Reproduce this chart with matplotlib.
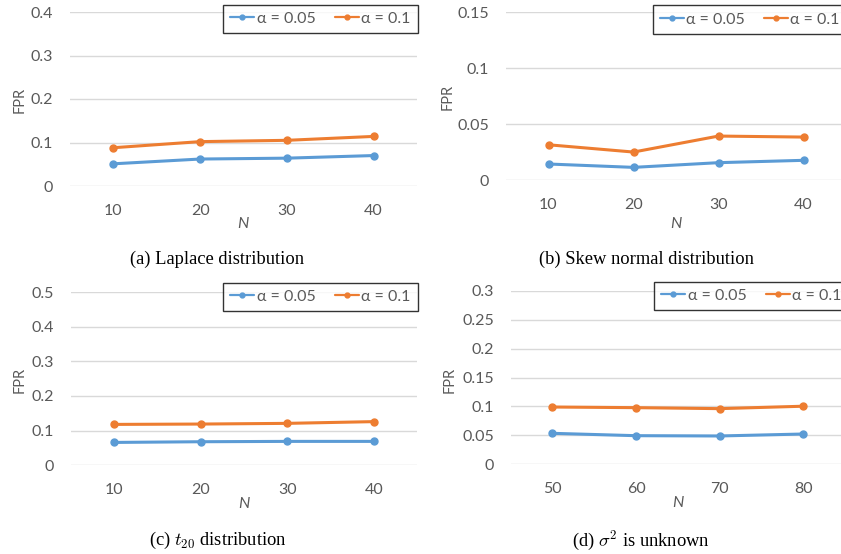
import matplotlib
matplotlib.use("Agg")
import matplotlib.pyplot as plt

# ---- data ----
n_a = ["10", "20", "30", "40"]
laplace_005 = [0.051, 0.062, 0.064, 0.070]
laplace_01 = [0.088, 0.102, 0.105, 0.114]

n_b = ["10", "20", "30", "40"]
skew_005 = [0.0143, 0.0113, 0.0155, 0.0176]
skew_01 = [0.0315, 0.0250, 0.0393, 0.0384]

n_c = ["10", "20", "30", "40"]
t20_005 = [0.066, 0.068, 0.069, 0.069]
t20_01 = [0.118, 0.119, 0.121, 0.126]

n_d = ["50", "60", "70", "80"]
sigma_005 = [0.0532, 0.0491, 0.0486, 0.0520]
sigma_01 = [0.0988, 0.0977, 0.0960, 0.1002]

legend_labels = ["α = 0.05", "α = 0.1"]
captions = ["(a) Laplace distribution", "(b) Skew normal distribution",
            r"(c) $t_{20}$ distribution", r"(d) $\sigma^2$ is unknown"]

plt.rcParams['mathtext.fontset'] = 'cm'
W, H = 841, 554
fig = plt.figure(figsize=(W / 100, H / 100), dpi=100)
fig.patch.set_facecolor("white")

BLUE = "#5B9BD5"
ORANGE = "#ED7D31"
GREY = "#595959"
GRID = "#D9D9D9"
SANS = ["Lato", "DejaVu Sans"]
SERIF = ["Liberation Serif", "DejaVu Serif"]


def px_axes(left, top, right, bottom):
    return fig.add_axes([left / W, 1 - bottom / H, (right - left) / W, (bottom - top) / H])


panels = [
    dict(box=(70, 12, 417, 186), cats=n_a, s1=laplace_005, s2=laplace_01, ymax=0.4,
         yticks=[0, 0.1, 0.2, 0.3, 0.4], yl=["0", "0.1", "0.2", "0.3", "0.4"],
         leg=(417.5, 4.7), fpr=(20, 100), nlab=(243, 224), cap=(217, 259)),
    dict(box=(506, 12.3, 846, 180), cats=n_b, s1=skew_005, s2=skew_01, ymax=0.15,
         yticks=[0, 0.05, 0.1, 0.15], yl=["0", "0.05", "0.1", "0.15"],
         leg=(847, 5.3), fpr=(448, 97), nlab=(676, 224), cap=(646, 259)),
    dict(box=(71, 292, 417, 465.3), cats=n_c, s1=t20_005, s2=t20_01, ymax=0.5,
         yticks=[0, 0.1, 0.2, 0.3, 0.4, 0.5], yl=["0", "0.1", "0.2", "0.3", "0.4", "0.5"],
         leg=(417.5, 282.7), fpr=(20, 380), nlab=(244, 504), cap=(218, 540)),
    dict(box=(510.7, 291, 845, 464), cats=n_d, s1=sigma_005, s2=sigma_01, ymax=0.3,
         yticks=[0, 0.05, 0.1, 0.15, 0.2, 0.25, 0.3],
         yl=["0", "0.05", "0.1", "0.15", "0.2", "0.25", "0.3"],
         leg=(848.5, 281.7), fpr=(450, 380), nlab=(678, 503), cap=(641, 540)),
]

for i, p in enumerate(panels):
    l, t, r, b = p["box"]
    ax = px_axes(l, t, r, b)
    x = list(range(len(p["cats"])))
    ax.plot(x, p["s1"], color=BLUE, lw=2.2, marker="o", ms=5, label=legend_labels[0],
            solid_capstyle="round", zorder=3)
    ax.plot(x, p["s2"], color=ORANGE, lw=2.2, marker="o", ms=5, label=legend_labels[1],
            solid_capstyle="round", zorder=3)
    ax.set_xlim(-0.5, len(x) - 0.5)
    ax.set_ylim(0, p["ymax"])
    ax.set_xticks(x)
    ax.set_xticklabels(p["cats"])
    ax.set_yticks(p["yticks"])
    ax.set_yticklabels(p["yl"])
    for s in ax.spines.values():
        s.set_visible(False)
    ax.yaxis.grid(True, color=GRID, lw=1)
    ax.set_axisbelow(True)
    ax.tick_params(axis="both", length=0, labelcolor=GREY, labelsize=11.5)
    ax.tick_params(axis="x", pad=13)
    ax.tick_params(axis="y", pad=12)
    for lab in ax.get_xticklabels() + ax.get_yticklabels():
        lab.set_family(SANS)
    ax.patch.set_alpha(0)

    lx, ly = p["leg"]
    leg = ax.legend(loc="upper right", bbox_to_anchor=(lx / W, 1 - ly / H),
                    bbox_transform=fig.transFigure, ncol=2, frameon=True, fancybox=False,
                    borderaxespad=0, handlelength=1.5, handletextpad=0.15,
                    columnspacing=1.2, borderpad=0.45,
                    prop={"family": SANS, "size": 11.5})
    leg.get_frame().set_edgecolor("black")
    leg.get_frame().set_linewidth(1.0)
    for h in leg.legend_handles:
        h.set_linewidth(1.6)
        h.set_markersize(3.5)
    for txt in leg.get_texts():
        txt.set_color(GREY)

    fig.text(p["fpr"][0] / W, 1 - p["fpr"][1] / H, "FPR", rotation=90, color=GREY,
             ha="center", va="center", family=SANS, fontsize=10.5)
    fig.text(p["nlab"][0] / W, 1 - p["nlab"][1] / H, "N", style="italic", color=GREY,
             ha="center", va="center", family=SANS, fontsize=11.5)
    fig.text(p["cap"][0] / W, 1 - p["cap"][1] / H, captions[i], color="black",
             ha="center", va="center", family=SERIF, fontsize=13.3)

fig.savefig("out.png", dpi=100)
